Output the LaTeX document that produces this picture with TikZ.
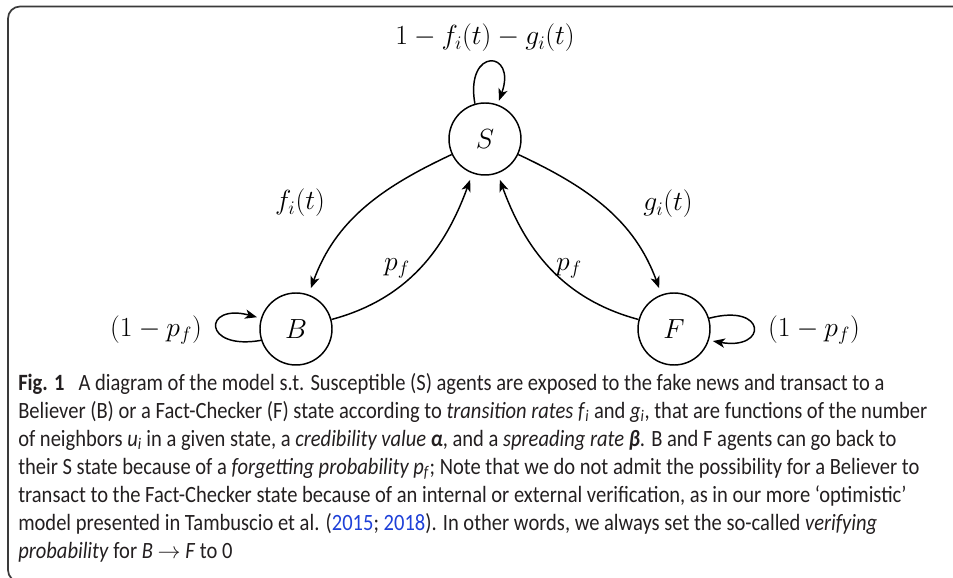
\documentclass[tikz,border=0pt]{standalone}
\usepackage{fontspec}
\usepackage{amsmath,amssymb}
\usetikzlibrary{arrows.meta,positioning}
\newfontfamily\capfont{Carlito}[FakeStretch=0.88]
\definecolor{capgray}{HTML}{231F20}
\definecolor{citeblue}{HTML}{1E40D8}
\definecolor{framegray}{HTML}{3A3A3A}
\newcommand{\labfont}{\fontsize{21.5}{25}\selectfont}
\newcommand{\isub}[1]{\textsubscript{\textit{#1}}}

\begin{document}
\begin{tikzpicture}[x=0.75pt,y=0.75pt,>={Stealth[length=9pt,width=7pt,inset=2.5pt]},
  state/.style={draw,circle,minimum size=54pt,inner sep=0pt,line width=1.1pt,font=\labfont},
  trans/.style={->,line width=1.1pt,shorten >=5pt},
  selfloop/.style={->,line width=1.1pt,shorten >=3pt},
  lab/.style={font=\labfont,inner sep=0pt}]
\useasboundingbox (0,0) rectangle (953,578);
% frame
\draw[framegray,line width=1.3pt,rounded corners=9] (960,571.5) -- (8,571.5) -- (8,-4) -- (40,-4);

% states
\node[state] (S) at (485,439) {$S$};
\node[state] (B) at (296,249) {$B$};
\node[state] (F) at (674,249) {$F$};

% transitions
\draw[trans] (S) to[out=205,in=70] (B);
\draw[trans] (B) to[out=15,in=250] (S);
\draw[trans] (S) to[out=335,in=110] (F);
\draw[trans] (F) to[out=165,in=290] (S);
\draw[selfloop] (S.106) .. controls +(100:58) and +(70:58) .. (S.70);
\draw[selfloop] (B.198) .. controls +(190:60) and +(165:60) .. (B.163);
\draw[selfloop] (F.17) .. controls +(15:60) and +(-10:60) .. (F.-18);

% rates
\node[lab] (lss) at (485,540) {$1-f_i(t)-g_i(t)$};
\node[lab] (lsb) at (300,375) {$f_i(t)$};
\node[lab] (lbs) at (397,310) {$p_f$};
\node[lab] (lsf) at (668,374) {$g_i(t)$};
\node[lab] (lfs) at (569,310) {$p_f$};
\node[lab] (lbb) at (156,248) {$(1-p_f)$};
\node[lab] (lff) at (814,248) {$(1-p_f)$};

% caption
\node[anchor=north west,inner sep=0pt,align=left,text=capgray,
      font=\capfont\fontsize{17.5}{21}\selectfont] (cap) at (18,205) {%
\textbf{Fig. 1}\hspace{0.6em}A diagram of the model s.t. Susceptible (S) agents are exposed to the fake news and transact to a\\
Believer (B) or a Fact-Checker (F) state according to \textit{transition rates f}\isub{i} and \textit{g}\isub{i}, that are functions of the number\\
of neighbors \textit{u}\isub{i} in a given state, a \textit{credibility value} \textbf{\textit{α}}, and a \textit{spreading rate} \textbf{\textit{β}}. B and F agents can go back to\\
their S state because of a \textit{forgetting probability p}\isub{f}; Note that we do not admit the possibility for a Believer to\\
transact to the Fact-Checker state because of an internal or external verification, as in our more ‘optimistic’\\
model presented in Tambuscio et al. ({\color{citeblue}2015}; {\color{citeblue}2018}). In other words, we always set the so-called \textit{verifying}\\
\textit{probability} for \textit{B} $\rightarrow$ \textit{F} to 0};
\end{tikzpicture}
\end{document}
